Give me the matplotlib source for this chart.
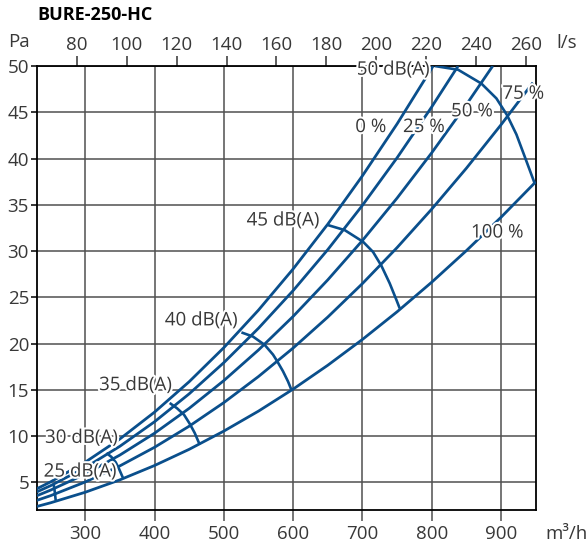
import matplotlib
matplotlib.use("Agg")
import matplotlib.pyplot as plt
import matplotlib.patheffects as pe

plt.rcParams['font.family'] = ['Open Sans', 'DejaVu Sans']

# ---- data ----
flow_ticks = [300, 400, 500, 600, 700, 800, 900]          # m3/h
ls_ticks = [80, 100, 120, 140, 160, 180, 200, 220, 240, 260]  # l/s
pa_ticks = [5, 10, 15, 20, 25, 30, 35, 40, 45, 50]

# system curves (damper position) : flow m3/h, pressure Pa
q_0 = [230, 250, 300, 350, 400, 450, 500, 550, 600, 650, 700, 750, 802]
p_0 = [4.29, 5.04, 7.17, 9.68, 12.58, 15.87, 19.55, 23.61, 28.06, 32.90, 38.13, 43.74, 50.0]
q_25 = [230, 250, 300, 350, 400, 450, 500, 550, 600, 650, 700, 750, 800, 838]
p_25 = [3.95, 4.63, 6.58, 8.89, 11.54, 14.56, 17.93, 21.65, 25.72, 30.15, 34.94, 40.08, 45.58, 50.0]
q_50 = [230, 250, 300, 350, 400, 450, 500, 550, 600, 650, 700, 750, 800, 850, 888]
p_50 = [3.54, 4.15, 5.88, 7.94, 10.30, 12.99, 15.99, 19.30, 22.93, 26.88, 31.14, 35.72, 40.62, 45.83, 50.0]
q_75 = [230, 250, 300, 350, 400, 450, 500, 550, 600, 650, 700, 750, 800, 850, 900, 946]
p_75 = [3.04, 3.55, 5.03, 6.77, 8.78, 11.06, 13.61, 16.43, 19.51, 22.86, 26.48, 30.37, 34.53, 38.95, 43.65, 48.2]
q_100 = [230, 250, 300, 350, 400, 450, 500, 550, 600, 650, 700, 750, 800, 850, 900, 950]
p_100 = [2.38, 2.78, 3.92, 5.26, 6.81, 8.56, 10.53, 12.69, 15.07, 17.65, 20.44, 23.43, 26.63, 30.04, 33.65, 37.47]

curves = [(q_0, p_0), (q_25, p_25), (q_50, p_50), (q_75, p_75), (q_100, p_100)]

# sound level isolines
iso_25_q = [254.5, 255.5, 256.5, 257.4]
iso_25_p = [4.75, 4.3, 3.7, 3.06]
iso_30_q = [330.6, 337.8, 344.0, 348.8, 354.5]
iso_30_p = [8.17, 7.74, 7.16, 6.45, 5.47]
iso_35_q = [421.9, 432.5, 442.6, 450.8, 458.0, 465.2]
iso_35_p = [13.57, 13.0, 12.3, 11.33, 10.33, 9.07]
iso_40_q = [525.4, 542.1, 559.0, 571.0, 577.3, 585.4, 592.6, 597.5]
iso_40_p = [21.2, 20.75, 19.85, 18.8, 18.05, 17.0, 15.9, 15.0]
iso_45_q = [650.4, 674.4, 700.9, 715.3, 727.4, 739.4, 749.1, 753.8]
iso_45_p = [32.8, 32.26, 31.0, 29.9, 28.4, 26.5, 24.7, 23.8]
iso_50_q = [804.3, 838.0, 871.7, 893.3, 908.6, 922.2, 934.2, 948.6]
iso_50_p = [50.0, 49.6, 48.1, 46.5, 44.7, 42.6, 40.2, 37.3]

isolines = [(iso_25_q, iso_25_p), (iso_30_q, iso_30_p), (iso_35_q, iso_35_p),
            (iso_40_q, iso_40_p), (iso_45_q, iso_45_p), (iso_50_q, iso_50_p)]

db_labels = ['25 dB(A)', '30 dB(A)', '35 dB(A)', '40 dB(A)', '45 dB(A)', '50 dB(A)']
db_label_q = [345, 347, 425, 520, 638, 797]
db_label_p = [6.15, 9.8, 15.5, 22.5, 33.3, 49.6]

pct_labels = ['0 %', '25 %', '50 %', '75 %', '100 %']
pct_label_q = [712, 788.5, 858, 932, 894.5]
pct_label_p = [43.4, 43.4, 45.1, 47.0, 32.0]

# ---- drawing ----
BLUE = '#0a4f8c'
GRID = '#505050'
TXT = '#383838'
FS = 13.5

fig = plt.figure(figsize=(5.87, 5.46), dpi=100)
ax = fig.add_axes([0.0625, 0.0659, 0.8501, 0.8132])
ax.set_xlim(230, 950)
ax.set_ylim(2, 50)

ax.set_xticks(flow_ticks)
ax.set_yticks(pa_ticks)
ax.grid(True, color=GRID, linewidth=1.1, zorder=1)
ax.set_axisbelow(True)
for s in ax.spines.values():
    s.set_color('black')
    s.set_linewidth(1.3)
ax.tick_params(axis='x', direction='out', length=8, width=1.1, color=GRID,
               labelsize=FS, labelcolor=TXT, pad=2.5)
ax.tick_params(axis='y', direction='out', length=4.5, width=1.1, color='black',
               labelsize=FS, labelcolor=TXT, pad=1)

sec = ax.secondary_xaxis('top', functions=(lambda q: q / 3.6, lambda l: l * 3.6))
sec.set_xticks(ls_ticks)
sec.tick_params(direction='out', length=7.5, width=1.1, color='#333333',
                labelsize=FS, labelcolor=TXT, pad=1.0)
sec.spines['top'].set_visible(False)

for q, p in curves:
    ax.plot(q, p, color=BLUE, lw=2.0, solid_capstyle='butt', zorder=3)
for q, p in isolines:
    ax.plot(q, p, color=BLUE, lw=1.9, solid_capstyle='butt', zorder=3)

stroke = [pe.withStroke(linewidth=3, foreground='white')]
for t, q, p in zip(db_labels, db_label_q, db_label_p):
    ax.text(q, p, t, ha='right', va='center', fontsize=FS, color=TXT,
            path_effects=stroke, zorder=5, clip_on=False)
for t, q, p in zip(pct_labels, pct_label_q, pct_label_p):
    ax.text(q, p, t, ha='center', va='center', fontsize=FS, color=TXT,
            path_effects=stroke, zorder=5)

fig.text(37 / 587, 1 - 15 / 546, 'BURE-250-HC', ha='left', va='center',
         fontsize=13, fontweight='bold', color='black')
fig.text(8 / 587, 1 - 42 / 546, 'Pa', ha='left', va='center', fontsize=FS, color=TXT)
fig.text(556 / 587, 1 - 43 / 546, 'l/s', ha='left', va='center', fontsize=FS, color=TXT)
fig.text(545 / 587, 1 - 534 / 546, 'm³/h', ha='left', va='center', fontsize=FS, color=TXT)

fig.savefig('out.png', dpi=100)
